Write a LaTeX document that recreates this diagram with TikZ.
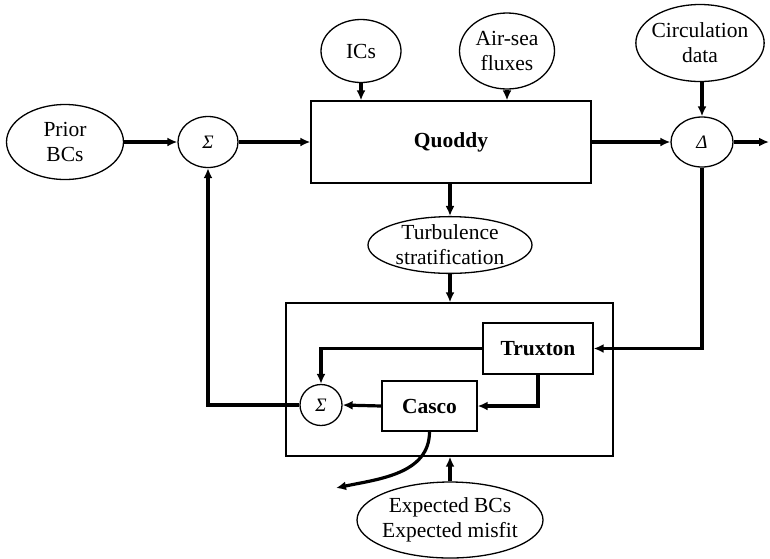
\documentclass[tikz,border=0pt]{standalone}
\usepackage{fontspec}
\setmainfont{Liberation Serif}
\usepackage{tikz}
\usetikzlibrary{arrows.meta,shapes.geometric}

\begin{document}
\begin{tikzpicture}[
    x=1pt, y=-1pt,
    font=\fontsize{21.5}{25}\selectfont,
    oval/.style={draw, ellipse, line width=1.3pt, inner xsep=-3pt, inner ysep=0pt, align=center},
    sumnode/.style={draw, ellipse, line width=1.3pt, inner sep=0pt, font=\fontsize{19}{20}\selectfont\itshape},
    box/.style={draw, line width=1.3pt, align=center, font=\fontsize{21.5}{25}\selectfont\bfseries},
    flow/.style={line width=3.2pt, -{Latex[length=10pt,width=9pt]}},
  ]
    \useasboundingbox (0,0) rectangle (770,558);

    % forward model
    \node[box, minimum width=280pt, minimum height=82pt] (quoddy) at (451,142) {Quoddy};
    \node[oval, minimum width=117pt, minimum height=75pt] (prior) at (65,142) {Prior\\BCs};
    \node[sumnode, minimum width=60pt, minimum height=51pt] (sum1) at (208,142) {Σ};
    \node[oval, minimum width=80pt, minimum height=63pt] (ics) at (361,51) {ICs};
    \node[oval, minimum width=95pt, minimum height=76pt] (airsea) at (507,51) {Air-sea\\fluxes};
    \node[oval, minimum width=125pt, minimum height=77pt] (circ) at (700,43) {Circulation\\data};
    \node[sumnode, minimum width=62pt, minimum height=50pt] (delta) at (702,142) {Δ};
    \coordinate (out) at (769,142);
    \node[oval, minimum width=164pt, minimum height=56pt] (turb) at (450,245) {Turbulence\\stratification};

    % inverse model
    \node[draw, line width=1.3pt, minimum width=327pt, minimum height=153pt] (inv) at (449.5,379.5) {};
    \node[box, minimum width=110pt, minimum height=51pt] (truxton) at (538,348.5) {Truxton};
    \node[box, minimum width=95pt, minimum height=50pt] (casco) at (429.5,406) {Casco};
    \node[sumnode, minimum width=42pt, minimum height=41pt] (sum2) at (321,405) {Σ};
    \node[oval, minimum width=186pt, minimum height=76pt] (expect) at (450,520) {Expected BCs\\Expected misfit};
    \coordinate (misfit) at (336,488);

    % connections
    \draw[flow] (prior) -- (sum1);
    \draw[flow] (sum1) -- (quoddy);
    \draw[flow] (ics.south) -- (ics.south |- quoddy.north);
    \draw[flow] (airsea.south) -- (airsea.south |- quoddy.north);
    \draw[flow] (quoddy) -- (delta);
    \draw[flow] (circ.south -| delta) -- (delta.north);
    \draw[flow] (delta) -- (out);
    \draw[flow] (quoddy.south -| turb) -- (turb.north);
    \draw[flow] (turb.south) -- (inv.north -| turb);
    \draw[flow] (expect.north) -- (inv.south -| expect);
    \draw[flow] (delta.south) |- (truxton.east);
    \draw[flow] (truxton.west) -| (sum2.north);
    \draw[flow] (truxton.south) |- (casco.east);
    \draw[flow] (casco.west) -- (sum2.east);
    \draw[flow] (sum2.west) -| (sum1.south);
    \draw[flow] (casco.south) to[out=-90, in=12] (misfit);
\end{tikzpicture}
\end{document}
